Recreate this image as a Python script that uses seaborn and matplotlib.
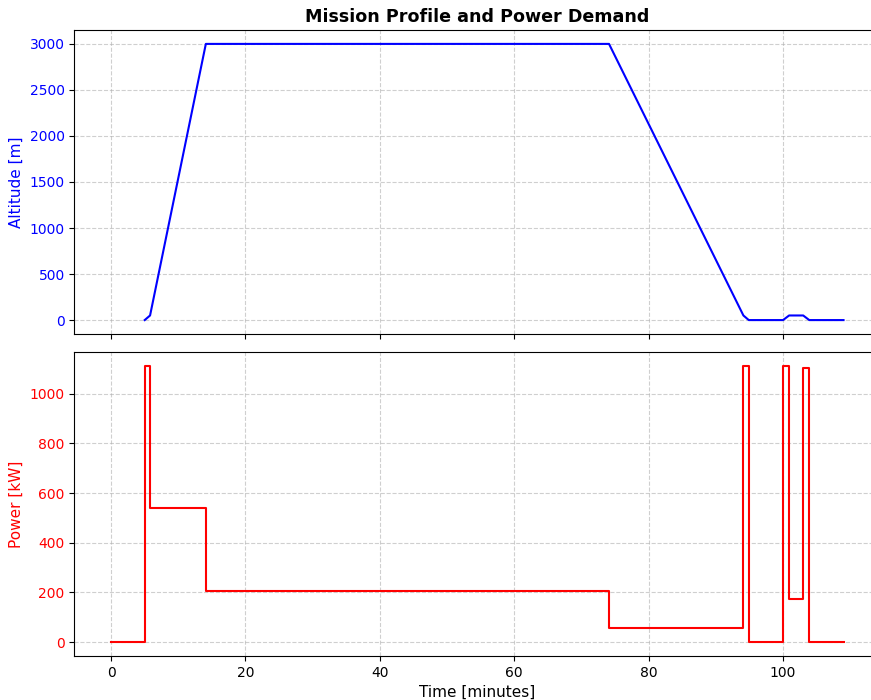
import matplotlib
matplotlib.use("Agg")
import matplotlib.pyplot as plt
import seaborn as sns
import pandas as pd

# Altitude profile (minutes, metres)
alt_time = [5, 5.8, 14.1, 74.1, 94.1, 94.9, 100, 100.9, 103, 103.9, 109]
altitude = [0, 50, 3000, 3000, 50, 0, 0, 50, 50, 0, 0]

# Power demand (step changes, minutes, kW)
pow_time = [0, 5, 5.8, 14.1, 74.1, 94.1, 94.9, 100, 100.9, 103, 103.9, 109]
power = [0, 1112, 541, 206, 56, 1112, 0, 1112, 172, 1105, 0, 0]

plt.rcParams['font.family'] = ['DejaVu Sans']

fig, (ax1, ax2) = plt.subplots(2, 1, figsize=(8.71, 7.0), dpi=100, sharex=True)
fig.subplots_adjust(left=0.0855, right=1.0105, top=0.957, bottom=0.063, hspace=0.06)

df_alt = pd.DataFrame({"t": alt_time, "alt": altitude})
df_pow = pd.DataFrame({"t": pow_time, "p": power})

sns.lineplot(data=df_alt, x="t", y="alt", ax=ax1, color="blue", linewidth=1.5,
             estimator=None, sort=False)
sns.lineplot(data=df_pow, x="t", y="p", ax=ax2, color="red", linewidth=1.5,
             estimator=None, sort=False, drawstyle="steps-post")

ax1.set_title("Mission Profile and Power Demand", fontsize=12.6, fontweight="bold")
ax1.set_ylabel("Altitude [m]", color="blue", fontsize=11)
ax1.tick_params(axis="y", labelcolor="blue")
ax1.set_xlabel("")
ax2.set_ylabel("Power [kW]", color="red", fontsize=11)
ax2.tick_params(axis="y", labelcolor="red")
ax2.set_xlabel("Time [minutes]", fontsize=11)

for ax in (ax1, ax2):
    ax.grid(True, linestyle="--", alpha=0.6)

ax2.set_xticks([0, 20, 40, 60, 80, 100])
ax2.set_yticks([0, 200, 400, 600, 800, 1000])
fig.savefig("out.png", dpi=100)
